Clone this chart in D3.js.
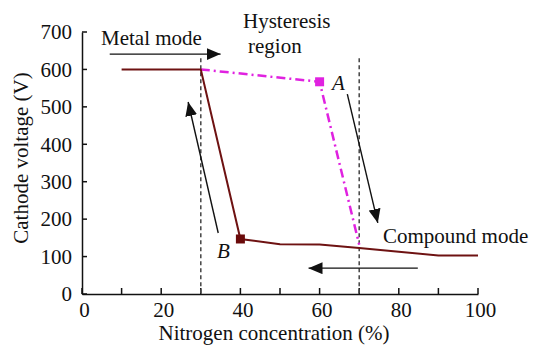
<!DOCTYPE html>
<html>
<head>
<meta charset="UTF-8">
<title>Cathode voltage hysteresis</title>
<script src="https://d3js.org/d3.v7.min.js"></script>
<style>
  body { margin: 0; background: #fff; }
</style>
</head>
<body>
<div id="chart"></div>
<script>
// data
let xTicks = [0, 20, 40, 60, 80, 100];
let xMinor = [10, 30, 50, 70, 90];
let yTicks = [0, 100, 200, 300, 400, 500, 600, 700];
let brownX = [10, 30, 40, 50, 60, 70, 80, 90, 100];
let brownY = [600, 600, 147, 133, 132, 123, 113, 103, 103];
let magentaX = [30, 60, 70];
let magentaY = [600, 567, 132];
let markerBrown = [40, 147];
let markerMagenta = [60, 567];
let dashedX = [30, 70];
let dashedTop = 630;
// arrows: [x1, y1, x2, y2] in data units, head at the second point
let arrows = [
  [7, 641, 35, 641],
  [67, 534, 74.7, 190],
  [34.4, 163, 26.8, 513],
  [84.8, 69, 57.2, 69]
];

var W = 533, H = 345;
var svg = d3.select("#chart").append("svg").attr("width", W).attr("height", H);

var x = d3.scaleLinear().domain([0, 100]).range([82, 478]);
var y = d3.scaleLinear().domain([0, 700]).range([294, 32]);

var defs = svg.append("defs");
defs.append("marker").attr("id", "head")
  .attr("markerUnits", "userSpaceOnUse")
  .attr("viewBox", "0 0 14 12").attr("refX", 14).attr("refY", 6)
  .attr("markerWidth", 14).attr("markerHeight", 12)
  .attr("orient", "auto")
  .append("path").attr("d", "M0,0 L14,6 L0,12 Z").attr("fill", "#111");

// axes
var xAxis = d3.axisBottom(x).tickValues(xTicks).tickSize(0).tickPadding(8)
  .tickFormat(d3.format("d"));
var gx = svg.append("g").attr("transform", "translate(0,294)").call(xAxis);
gx.select(".domain").attr("stroke", "#111").attr("stroke-width", 1.5);
gx.selectAll("text").attr("dx", 2);
gx.selectAll(".tk").data(xTicks.concat(xMinor)).enter().append("line")
  .attr("x1", d => x(d)).attr("x2", d => x(d)).attr("y1", 0).attr("y2", -6)
  .attr("stroke", "#111").attr("stroke-width", 1.5);

var yAxis = d3.axisLeft(y).tickValues(yTicks).tickSize(0).tickPadding(10);
var gy = svg.append("g").attr("transform", "translate(82,0)").call(yAxis);
gy.select(".domain").attr("stroke", "#111").attr("stroke-width", 1.5);
gy.selectAll(".tk").data(yTicks).enter().append("line")
  .attr("x1", 0).attr("x2", 5).attr("y1", d => y(d)).attr("y2", d => y(d))
  .attr("stroke", "#111").attr("stroke-width", 1.5);

// dashed verticals
svg.selectAll(".vdash").data(dashedX).enter().append("line")
  .attr("x1", d => x(d)).attr("x2", d => x(d))
  .attr("y1", y(dashedTop)).attr("y2", y(0))
  .attr("stroke", "#444").attr("stroke-width", 1.5).attr("stroke-dasharray", "4,3");

// magenta dash-dot
var line = d3.line().x(d => x(d[0])).y(d => y(d[1]));
svg.append("path").datum(d3.zip(magentaX, magentaY)).attr("d", line)
  .attr("fill", "none").attr("stroke", "#e022e0").attr("stroke-width", 2.5)
  .attr("stroke-dasharray", "9,4,2,4");
svg.append("rect")
  .attr("x", x(markerMagenta[0]) - 4.5).attr("y", y(markerMagenta[1]) - 4.5)
  .attr("width", 9).attr("height", 9).attr("fill", "#e022e0");

// brown solid
svg.append("path").datum(d3.zip(brownX, brownY)).attr("d", line)
  .attr("fill", "none").attr("stroke", "#6e1212").attr("stroke-width", 2);
svg.append("rect")
  .attr("x", x(markerBrown[0]) - 4.5).attr("y", y(markerBrown[1]) - 4.5)
  .attr("width", 9).attr("height", 9).attr("fill", "#6a0a0a");

// arrows
svg.selectAll(".arr").data(arrows).enter().append("line")
  .attr("x1", d => x(d[0])).attr("y1", d => y(d[1]))
  .attr("x2", d => x(d[2])).attr("y2", d => y(d[3]))
  .attr("stroke", "#111").attr("stroke-width", 1.4)
  .attr("marker-end", "url(#head)");

// labels
function label(t, px, py, anchor, italic) {
  svg.append("text").attr("x", px).attr("y", py)
    .attr("text-anchor", anchor || "start")
    .attr("font-style", italic ? "italic" : "normal").text(t);
}
label("Metal mode", 101, 45);
label("Hysteresis", 243, 28);
label("region", 248, 53);
label("A", 332, 90, "start", true);
label("B", 217, 258, "start", true);
label("Compound mode", 383, 243);

svg.append("text").attr("x", 274).attr("y", 340)
  .attr("text-anchor", "middle").text("Nitrogen concentration (%)");
svg.append("text").attr("transform", "translate(28,158) rotate(-90)")
  .attr("text-anchor", "middle").text("Cathode voltage (V)");

// one font for every text, set on the elements themselves
svg.selectAll("text")
  .attr("font-family", "'Liberation Serif'")
  .attr("font-size", 21)
  .attr("fill", "#111");
</script>
</body>
</html>
